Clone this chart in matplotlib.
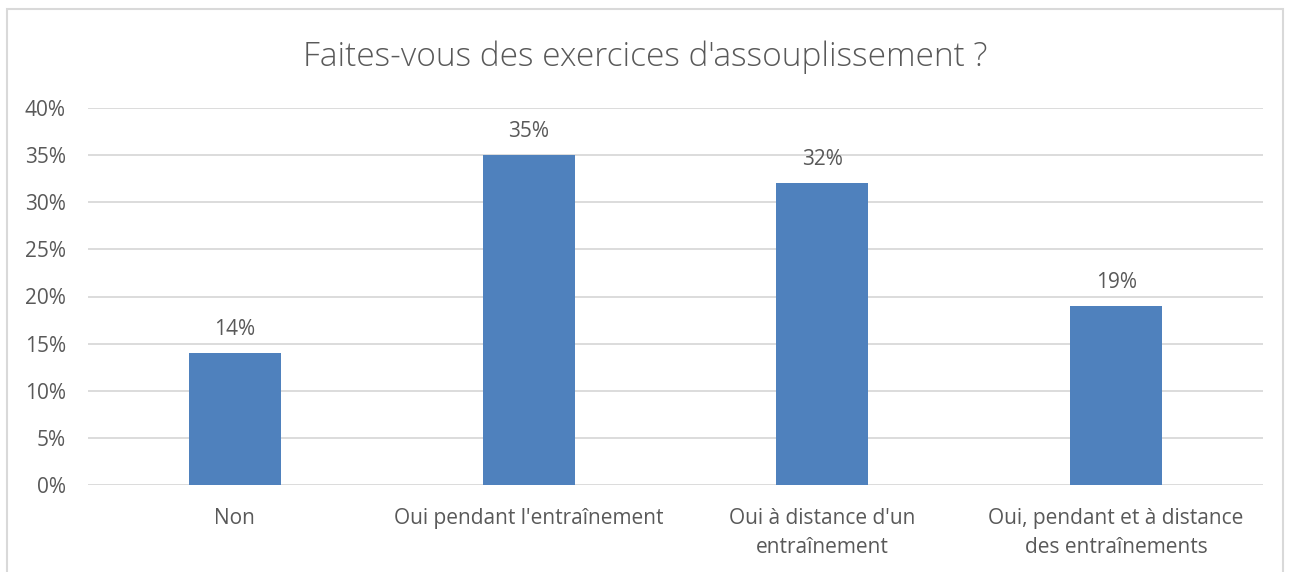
import matplotlib
matplotlib.use("Agg")
import matplotlib.pyplot as plt
from matplotlib.patches import Rectangle
from matplotlib.ticker import PercentFormatter

categories = ["Non", "Oui pendant l'entraînement", "Oui à distance d'un\nentraînement",
              "Oui, pendant et à distance\ndes entraînements"]
values = [14, 35, 32, 19]
yticks = [0, 5, 10, 15, 20, 25, 30, 35, 40]
title = "Faites-vous des exercices d'assouplissement ?"

plt.rcParams['font.family'] = ['Open Sans', 'DejaVu Sans']
txt = '#595959'
fig = plt.figure(figsize=(12.91, 5.72), dpi=100)
fig.patches.append(Rectangle((7/1291, -0.1), (1283-7)/1291, 1.1 - 9/572,
                             transform=fig.transFigure, fill=False,
                             edgecolor='#D9D9D9', linewidth=1.5))
ax = fig.add_axes([88/1291, 1-485/572, (1263-88)/1291, (485-108)/572])
x = range(len(categories))
bars = ax.bar(x, values, width=0.313, color='#4F81BD', zorder=3)
ax.set_xlim(-0.5, len(categories)-0.5)
ax.set_ylim(0, 40)
ax.set_yticks(yticks)
ax.yaxis.set_major_formatter(PercentFormatter(decimals=0))
ax.grid(axis='y', color='#D9D9D9', linewidth=1.3, zorder=0)
for s in ax.spines.values():
    s.set_visible(False)
ax.tick_params(axis='both', length=0, labelsize=15, labelcolor=txt)
ax.tick_params(axis='y', pad=16)
ax.tick_params(axis='x', pad=16.5)
ax.set_xticks(list(x))
ax.set_xticklabels(categories, linespacing=1.5)
for b, v in zip(bars, values):
    ax.annotate(f"{v}%", (b.get_x()+b.get_width()/2, v), xytext=(0, 17),
                textcoords='offset points', ha='center', va='center',
                fontsize=15, color=txt)
fig.text(0.5, 1-57/572, title, ha='center', va='center', fontsize=24,
         color=txt, fontweight='light')
fig.savefig("out.png", dpi=100)
